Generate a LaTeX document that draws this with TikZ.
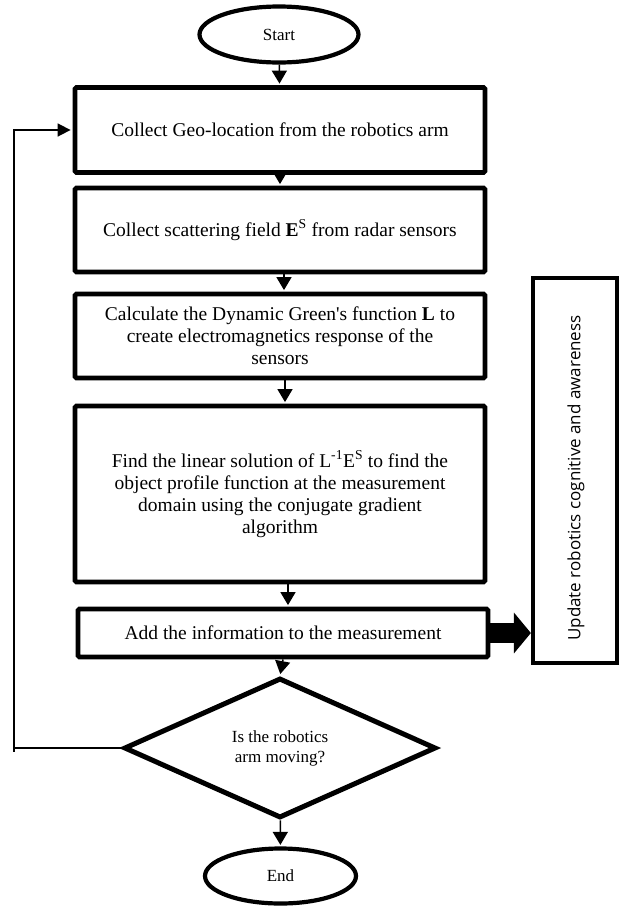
\documentclass[tikz,border=0pt]{standalone}
\usepackage{fontspec}
\setmainfont{Liberation Serif}
\newfontfamily\updfont{Open Sans}
\usetikzlibrary{shapes.geometric,arrows.meta}
\begin{document}
\begin{tikzpicture}[x=1pt,y=-1pt,
  box/.style={draw, line width=4.8pt, rounded corners=1.5pt, fill=white, inner sep=0pt,
    align=center, minimum width=410pt, font=\fontsize{19.5}{22}\selectfont},
  term/.style={draw, ellipse, line width=4.2pt, fill=white, inner sep=0pt,
    font=\fontsize{17}{20}\selectfont},
  dec/.style={draw, diamond, line width=5pt, fill=white, inner sep=0pt, align=center,
    minimum width=312pt, minimum height=140pt, font=\fontsize{17}{20}\selectfont},
  flow/.style={line width=1.5pt, shorten >=1.5pt, -{Triangle[width=15pt,length=13pt]}},
  back/.style={line width=1.6pt, shorten >=2pt, -{Triangle[width=13pt,length=13pt]}},
  bigarrow/.style={line width=20pt, -{Triangle[width=40pt,length=17pt]}},
  sidebox/.style={draw, line width=4.2pt, fill=white, inner sep=0pt, minimum width=84pt, minimum height=385pt},
  sidetext/.style={rotate=90, inner sep=0pt, font=\updfont\fontsize{17}{20}\selectfont}
]
\useasboundingbox (0,0) rectangle (620,906);
\fill[white] (0,0) rectangle (620,906);

\node[term, minimum width=159pt, minimum height=56pt] (start) at (279,34.5) {Start};
\node[box, minimum height=85pt] (b1) at (280,130) {Collect Geo-location from the robotics arm};
\node[box, minimum height=84pt] (b2) at (280,230) {Collect scattering field \textbf{E}\textsuperscript{S} from radar sensors};
\node[box, minimum height=84pt] (b3) at (280,336) {Calculate the Dynamic Green\textquotesingle s function \textbf{L} to\\create electromagnetics response of the\\sensors};
\node[box, minimum height=176pt] (b4) at (280,494) {Find the linear solution of L\textsuperscript{-1}E\textsuperscript{S} to find the\\object profile function at the measurement\\domain using the conjugate gradient\\algorithm};
\node[box, minimum height=48pt] (b5) at (283,633) {Add the information to the measurement};
\node[dec] (dec) at (280,748) {Is the robotics\\arm moving?};
\node[term, minimum width=151pt, minimum height=55pt] (end) at (280.5,876) {End};

\node[sidebox] (upd) at (575,470.5) {};
\node[sidetext] (updtext) at (576,478) {Update robotics cognitive and awareness};

\draw[flow] (start) -- (b1);
\draw[flow] (b1) -- (b2);
\draw[flow] ([xshift=4pt]b2.south) -- ([xshift=4pt]b3.north);
\draw[flow] ([xshift=5pt]b3.south) -- ([xshift=5pt]b4.north);
\draw[flow] ([xshift=8pt]b4.south) -- ([xshift=5pt]b5.north);
\draw[flow] (b5.south) -- (dec.north);
\draw[flow] (dec) -- (end);

\coordinate (fbx) at (14,748);
\coordinate (fbtail) at (14,752);
\draw[line width=1.6pt] (dec.west) -- (fbx) -- (fbtail);
\draw[back] (fbx) |- (b1.west);

\draw[bigarrow] (b5.east) -- (b5.east -| upd.west);
\end{tikzpicture}
\end{document}
